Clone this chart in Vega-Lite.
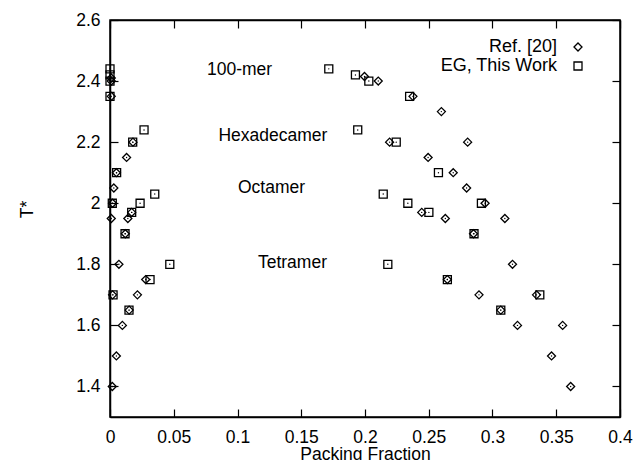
{
  "$schema": "https://vega.github.io/schema/vega-lite/v6.json",
  "width": 510,
  "height": 397,
  "autosize": {"type": "none"},
  "padding": {"left": 110, "top": 20, "right": 14, "bottom": 43},
  "background": "white",
  "config": {
    "view": {"stroke": "black", "strokeWidth": 1.5},
    "font": "Liberation Sans",
    "axis": {
      "domainColor": "#000000", "domainWidth": 1.5, "domainOpacity": 1,
      "tickColor": "#000000", "tickWidth": 1.2, "tickSize": 8, "tickOpacity": 1,
      "grid": false,
      "labelFont": "Liberation Sans", "labelFontSize": 17.5, "labelColor": "black",
      "titleFont": "Liberation Sans", "titleFontSize": 17.5, "titleFontWeight": "normal", "titleColor": "black",
      "labelFlush": false, "labelOverlap": false
    },
    "legend": {
      "labelFont": "Liberation Sans", "labelFontSize": 18, "labelColor": "black"
    }
  },
  "datasets": {
    "pts": [
      {"s": "Ref. [20]", "x": 0.001, "y": 2.41},
      {"s": "Ref. [20]", "x": 0.001, "y": 2.40},
      {"s": "Ref. [20]", "x": 0.001, "y": 2.35},
      {"s": "Ref. [20]", "x": 0.018, "y": 2.20},
      {"s": "Ref. [20]", "x": 0.013, "y": 2.15},
      {"s": "Ref. [20]", "x": 0.005, "y": 2.10},
      {"s": "Ref. [20]", "x": 0.003, "y": 2.05},
      {"s": "Ref. [20]", "x": 0.002, "y": 2.00},
      {"s": "Ref. [20]", "x": 0.017, "y": 1.97},
      {"s": "Ref. [20]", "x": 0.001, "y": 1.95},
      {"s": "Ref. [20]", "x": 0.014, "y": 1.95},
      {"s": "Ref. [20]", "x": 0.012, "y": 1.90},
      {"s": "Ref. [20]", "x": 0.007, "y": 1.80},
      {"s": "Ref. [20]", "x": 0.028, "y": 1.75},
      {"s": "Ref. [20]", "x": 0.002, "y": 1.70},
      {"s": "Ref. [20]", "x": 0.0215, "y": 1.70},
      {"s": "Ref. [20]", "x": 0.015, "y": 1.65},
      {"s": "Ref. [20]", "x": 0.0097, "y": 1.60},
      {"s": "Ref. [20]", "x": 0.005, "y": 1.50},
      {"s": "Ref. [20]", "x": 0.0018, "y": 1.40},
      {"s": "Ref. [20]", "x": 0.1996, "y": 2.415},
      {"s": "Ref. [20]", "x": 0.2104, "y": 2.40},
      {"s": "Ref. [20]", "x": 0.2376, "y": 2.35},
      {"s": "Ref. [20]", "x": 0.2599, "y": 2.30},
      {"s": "Ref. [20]", "x": 0.2193, "y": 2.20},
      {"s": "Ref. [20]", "x": 0.2805, "y": 2.20},
      {"s": "Ref. [20]", "x": 0.2495, "y": 2.15},
      {"s": "Ref. [20]", "x": 0.2692, "y": 2.10},
      {"s": "Ref. [20]", "x": 0.2797, "y": 2.05},
      {"s": "Ref. [20]", "x": 0.2942, "y": 2.00},
      {"s": "Ref. [20]", "x": 0.2445, "y": 1.97},
      {"s": "Ref. [20]", "x": 0.263, "y": 1.95},
      {"s": "Ref. [20]", "x": 0.3097, "y": 1.95},
      {"s": "Ref. [20]", "x": 0.2851, "y": 1.90},
      {"s": "Ref. [20]", "x": 0.3157, "y": 1.80},
      {"s": "Ref. [20]", "x": 0.2646, "y": 1.75},
      {"s": "Ref. [20]", "x": 0.2894, "y": 1.70},
      {"s": "Ref. [20]", "x": 0.3345, "y": 1.70},
      {"s": "Ref. [20]", "x": 0.3065, "y": 1.65},
      {"s": "Ref. [20]", "x": 0.3196, "y": 1.60},
      {"s": "Ref. [20]", "x": 0.355, "y": 1.60},
      {"s": "Ref. [20]", "x": 0.3463, "y": 1.50},
      {"s": "Ref. [20]", "x": 0.3613, "y": 1.40},
      {"s": "EG, This Work", "x": 0.0, "y": 2.44},
      {"s": "EG, This Work", "x": 0.0, "y": 2.42},
      {"s": "EG, This Work", "x": 0.0, "y": 2.40},
      {"s": "EG, This Work", "x": 0.0, "y": 2.35},
      {"s": "EG, This Work", "x": 0.0267, "y": 2.24},
      {"s": "EG, This Work", "x": 0.0178, "y": 2.20},
      {"s": "EG, This Work", "x": 0.0052, "y": 2.10},
      {"s": "EG, This Work", "x": 0.0351, "y": 2.03},
      {"s": "EG, This Work", "x": 0.0018, "y": 2.00},
      {"s": "EG, This Work", "x": 0.0236, "y": 2.00},
      {"s": "EG, This Work", "x": 0.017, "y": 1.97},
      {"s": "EG, This Work", "x": 0.0118, "y": 1.90},
      {"s": "EG, This Work", "x": 0.0469, "y": 1.80},
      {"s": "EG, This Work", "x": 0.0314, "y": 1.75},
      {"s": "EG, This Work", "x": 0.0024, "y": 1.70},
      {"s": "EG, This Work", "x": 0.0149, "y": 1.65},
      {"s": "EG, This Work", "x": 0.1716, "y": 2.44},
      {"s": "EG, This Work", "x": 0.1925, "y": 2.42},
      {"s": "EG, This Work", "x": 0.203, "y": 2.40},
      {"s": "EG, This Work", "x": 0.235, "y": 2.35},
      {"s": "EG, This Work", "x": 0.1943, "y": 2.24},
      {"s": "EG, This Work", "x": 0.2245, "y": 2.20},
      {"s": "EG, This Work", "x": 0.2576, "y": 2.10},
      {"s": "EG, This Work", "x": 0.2143, "y": 2.03},
      {"s": "EG, This Work", "x": 0.2336, "y": 2.00},
      {"s": "EG, This Work", "x": 0.2913, "y": 2.00},
      {"s": "EG, This Work", "x": 0.2501, "y": 1.97},
      {"s": "EG, This Work", "x": 0.2855, "y": 1.90},
      {"s": "EG, This Work", "x": 0.2179, "y": 1.80},
      {"s": "EG, This Work", "x": 0.2646, "y": 1.75},
      {"s": "EG, This Work", "x": 0.3371, "y": 1.70},
      {"s": "EG, This Work", "x": 0.3065, "y": 1.65}
    ],
    "labels": [
      {"t": "100-mer", "x": 0.1016, "y": 2.435},
      {"t": "Hexadecamer", "x": 0.1278, "y": 2.219},
      {"t": "Octamer", "x": 0.1267, "y": 2.049},
      {"t": "Tetramer", "x": 0.1431, "y": 1.803}
    ]
  },
  "layer": [
    {
      "data": {"name": "pts"},
      "mark": {"type": "point", "filled": false, "color": "black", "strokeWidth": 1.3, "opacity": 1, "size": 64, "clip": false},
      "encoding": {
        "x": {"field": "x", "type": "quantitative",
          "scale": {"domain": [0, 0.4], "nice": false, "zero": false},
          "axis": {"orient": "bottom", "values": [0, 0.05, 0.1, 0.15, 0.2, 0.25, 0.3, 0.35, 0.4], "format": "~g",
            "ticks": false, "domain": true, "labelPadding": 11.5, "title": "Packing Fraction", "titleY": 42, "titleBaseline": "alphabetic"}},
        "y": {"field": "y", "type": "quantitative",
          "scale": {"domain": [1.3, 2.6], "nice": false, "zero": false},
          "axis": {"orient": "left", "values": [1.4, 1.6, 1.8, 2.0, 2.2, 2.4, 2.6], "format": "~g",
            "ticks": false, "domain": true, "labelPadding": 10, "title": "T*", "titleX": -83, "titleY": 189, "titleAngle": -90, "titleAlign": "center", "titleBaseline": "middle"}},
        "shape": {"field": "s", "type": "nominal",
          "scale": {"domain": ["Ref. [20]", "EG, This Work"], "range": ["diamond", "square"]},
          "legend": {"orient": "none", "legendX": 459, "legendY": 18, "title": null,
            "labelAlign": "right", "labelOffset": -30, "symbolSize": 64, "symbolStrokeColor": "black",
            "symbolFillColor": "transparent", "symbolStrokeWidth": 1.3, "rowPadding": 1}}
      }
    },
    {
      "data": {"name": "pts"},
      "mark": {"type": "point", "filled": true, "color": "black", "size": 2, "opacity": 1, "clip": false},
      "encoding": {
        "x": {"field": "x", "type": "quantitative",
          "axis": {"orient": "top", "values": [0, 0.4], "ticks": false, "labels": false, "domain": true, "title": null}},
        "y": {"field": "y", "type": "quantitative",
          "axis": {"orient": "right", "values": [1.4, 2.6], "ticks": false, "labels": false, "domain": true, "title": null}}
      }
    },
    {
      "data": {"name": "labels"},
      "mark": {"type": "text", "font": "Liberation Sans", "fontSize": 17.5, "align": "center", "baseline": "middle", "color": "black"},
      "encoding": {
        "x": {"field": "x", "type": "quantitative",
          "axis": {"orient": "bottom", "offset": -8, "values": [0, 0.05, 0.1, 0.15, 0.2, 0.25, 0.3, 0.35, 0.4], "ticks": true, "labels": false, "domain": false, "title": null}},
        "y": {"field": "y", "type": "quantitative",
          "axis": {"orient": "left", "offset": -8, "values": [1.4, 1.6, 1.8, 2.0, 2.2, 2.4, 2.6], "ticks": true, "labels": false, "domain": false, "title": null}},
        "text": {"field": "t", "type": "nominal"}
      }
    },
    {
      "data": {"name": "labels"},
      "mark": {"type": "point", "opacity": 0, "size": 1},
      "encoding": {
        "x": {"field": "x", "type": "quantitative",
          "axis": {"orient": "top", "offset": -8, "values": [0, 0.05, 0.1, 0.15, 0.2, 0.25, 0.3, 0.35, 0.4], "ticks": true, "labels": false, "domain": false, "title": null}},
        "y": {"field": "y", "type": "quantitative",
          "axis": {"orient": "right", "offset": -8, "values": [1.4, 1.6, 1.8, 2.0, 2.2, 2.4, 2.6], "ticks": true, "labels": false, "domain": false, "title": null}}
      }
    }
  ],
  "resolve": {"axis": {"x": "independent", "y": "independent"}}
}
